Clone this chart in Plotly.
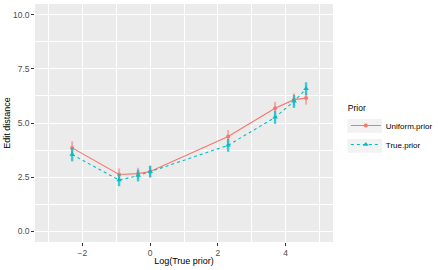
import numpy as np
import plotly.graph_objects as go

log_prior = [-2.303, -0.916, -0.357, 0.0, 2.303, 3.689, 4.248, 4.605]
uniform_mean = [3.85, 2.62, 2.66, 2.76, 4.38, 5.68, 6.08, 6.15]
uniform_err = [0.30, 0.28, 0.27, 0.27, 0.30, 0.30, 0.28, 0.30]
true_mean = [3.54, 2.36, 2.57, 2.75, 3.97, 5.26, 6.00, 6.58]
true_err = [0.31, 0.28, 0.27, 0.27, 0.30, 0.30, 0.30, 0.30]

RED = "#F8766D"
CYAN = "#00BFC4"
FONT = "Liberation Sans"

fig = go.Figure()
fig.add_trace(go.Scatter(
    x=log_prior, y=uniform_mean, name="Uniform.prior", mode="lines+markers",
    line=dict(color=RED, width=1.1),
    marker=dict(symbol="circle", size=4, color=RED),
    error_y=dict(type="data", array=uniform_err, width=0, thickness=2,
                 color="rgba(248,118,109,0.55)"),
))
fig.add_trace(go.Scatter(
    x=log_prior, y=true_mean, name="True.prior", mode="lines+markers",
    line=dict(color=CYAN, width=1.1, dash="dot"),
    marker=dict(symbol="triangle-up", size=5, color=CYAN),
    error_y=dict(type="data", array=true_err, width=0, thickness=2.4,
                 color="rgba(0,191,196,0.75)"),
))

axis_common = dict(
    showgrid=True, gridcolor="white", gridwidth=1.1, zeroline=False,
    ticks="outside", ticklen=2.7, tickwidth=1.07, tickcolor="#333333",
    tickfont=dict(family=FONT, size=8.5, color="#4D4D4D"),
    showline=False, automargin=False,
)
fig.update_xaxes(
    range=[-3.4, 5.4], tickvals=[-2, 0, 2, 4],
    minor=dict(tickvals=[-3, -1, 1, 3, 5], showgrid=True, gridcolor="white",
               gridwidth=0.55, ticks=""),
    title=dict(text="Log(True prior)", font=dict(family=FONT, size=9, color="black"), standoff=0),
    **axis_common,
)
fig.update_yaxes(
    range=[-0.5, 10.5], tickvals=[0, 2.5, 5, 7.5, 10], tickformat=".1f",
    minor=dict(tickvals=[1.25, 3.75, 6.25, 8.75], showgrid=True, gridcolor="white",
               gridwidth=0.55, ticks=""),
    title=dict(text="Edit distance", font=dict(family=FONT, size=9, color="black"), standoff=0),
    **axis_common,
)

key_style = dict(type="rect", xref="paper", yref="paper", fillcolor="#F2F2F2",
                 line=dict(width=0), layer="below", x0=1.048, x1=1.164)
fig.update_layout(
    width=438, height=270,
    margin=dict(l=35, r=105, t=4, b=28, autoexpand=False),
    plot_bgcolor="#EBEBEB", paper_bgcolor="white",
    font=dict(family=FONT),
    legend=dict(
        title=dict(text="Prior", font=dict(family=FONT, size=8.5, color="black")),
        font=dict(family=FONT, size=8, color="black"),
        x=1.043, y=0.597, xanchor="left", yanchor="top",
        bgcolor="rgba(0,0,0,0)", tracegroupgap=0,
    ),
    shapes=[
        dict(key_style, y0=0.459, y1=0.517),
        dict(key_style, y0=0.375, y1=0.433),
    ],
)
fig.write_html("out.html", config={"displayModeBar": False},
               post_script="document.body.style.margin='0';")
